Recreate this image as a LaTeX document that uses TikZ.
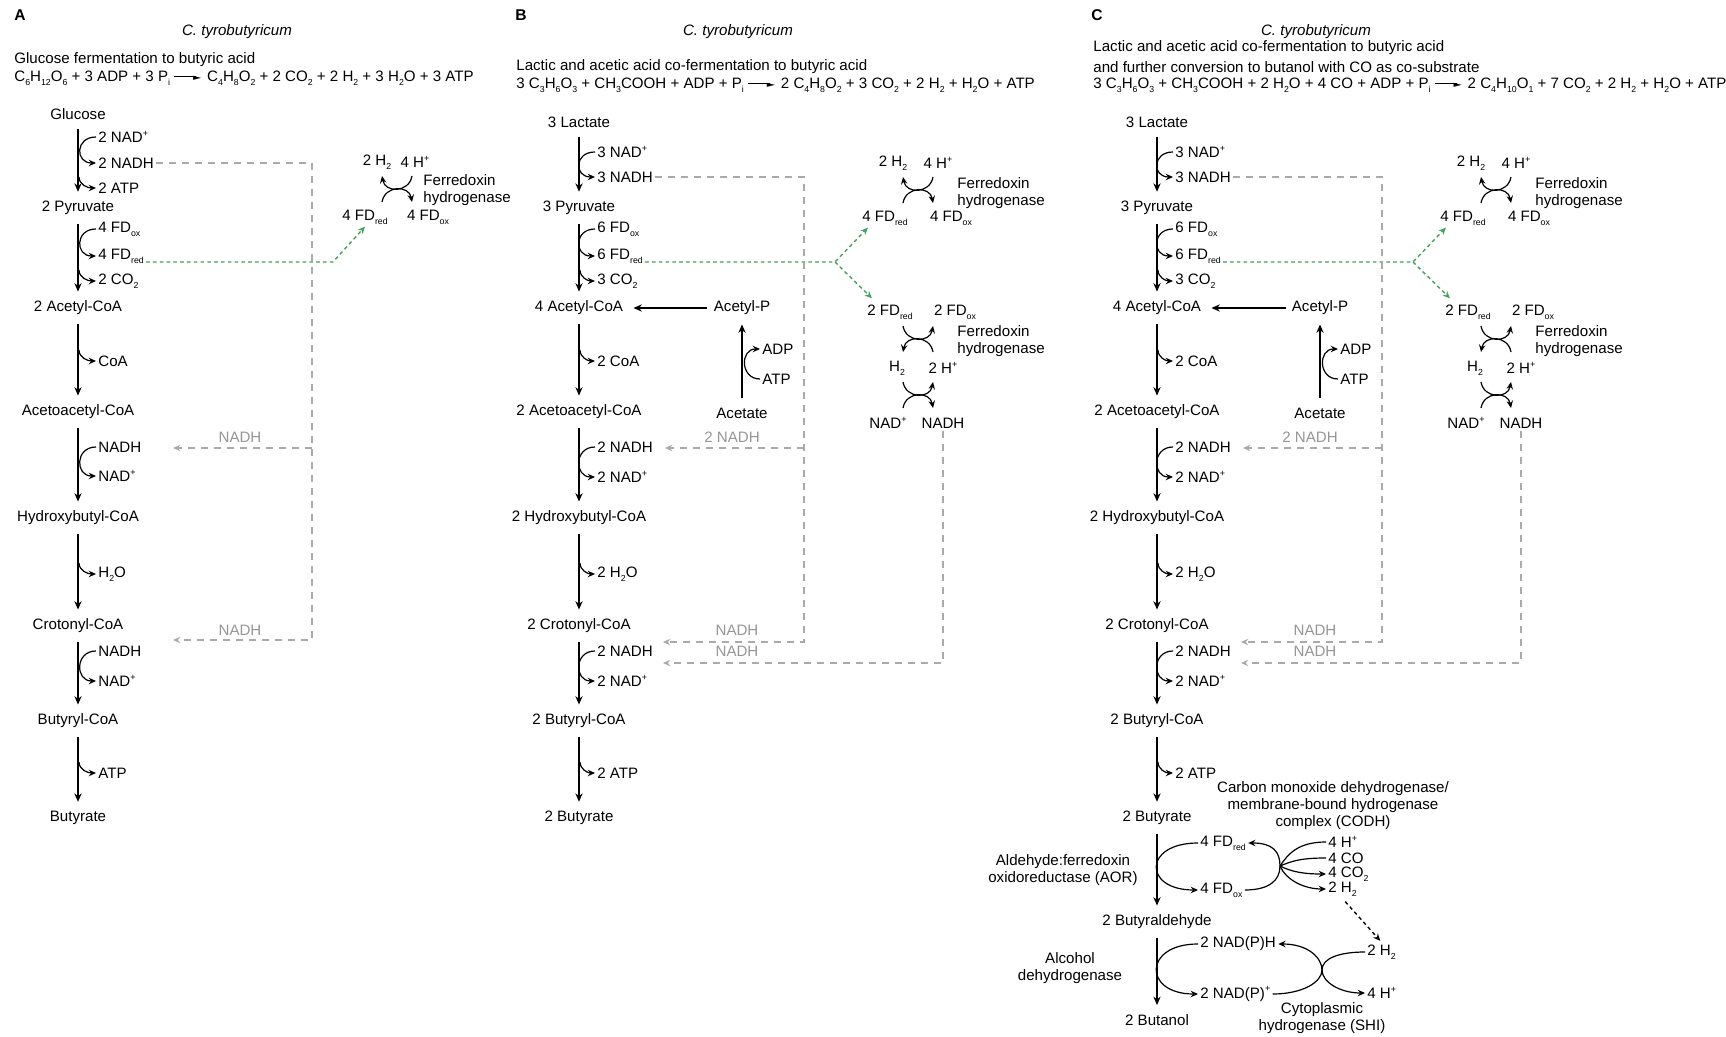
\documentclass[tikz,border=0pt]{standalone}
\usepackage{fontspec}
\setmainfont{Liberation Sans}
\newfontfamily\djv{DejaVu Sans}
\usetikzlibrary{arrows.meta,calc}
\newcommand{\dnx}[1]{\raisebox{-0.5ex}{\scalebox{0.58}{#1}}}
\newcommand{\upx}[1]{\raisebox{0.8ex}{\scalebox{0.6}{#1}}}
\newcommand{\lbf}{\fontsize{7.55pt}{8.5pt}\selectfont}
\newcommand{\rxarr}{\hspace{2pt}\rule[0.52ex]{11pt}{0.6pt}\kern-1.5pt\raisebox{0.1ex}{\djv\scalebox{0.7}[0.55]{►}}\hspace{3pt}}
\definecolor{dgray}{RGB}{170,170,170}
\definecolor{tgray}{RGB}{150,150,150}
\definecolor{fgreen}{RGB}{70,160,95}
\tikzset{
 sidelab/.style={anchor=west},
 ptitle/.style={font=\fontsize{7.8pt}{9pt}\selectfont\bfseries},
 mainarr/.style={line width=0.8pt, shorten <=3.5pt, shorten >=3.5pt, -{Stealth[length=4.2pt,width=3.6pt]}},
 sidearr/.style={line width=0.6pt, -{Stealth[length=3.6pt,width=3.2pt]}},
 plainarc/.style={line width=0.6pt},
 grayarr/.style={dgray, line width=0.65pt, dash pattern=on 3.5pt off 3pt, -{Stealth[length=3.6pt,width=3.2pt]}},
 greenarr/.style={fgreen, line width=0.7pt, dash pattern=on 1.8pt off 1.6pt, -{Stealth[length=3.6pt,width=3.2pt]}},
 graytxt/.style={text=tgray},
 crossT/.pic={
  \draw[sidearr] (15,-13) .. controls +(-3,17) and +(3,17) .. (-15,-13);
  \draw[sidearr] (-15,13) .. controls +(3,-17) and +(-3,-17) .. (15,13);
 },
 crossM/.pic={
  \draw[sidearr] (-15,-13) .. controls +(3,17) and +(-3,17) .. (15,-13);
  \draw[sidearr] (15,13) .. controls +(-3,-17) and +(3,-17) .. (-15,13);
 },
 crossL/.pic={
  \draw[sidearr] (-15,-13) .. controls +(3,17) and +(-3,17) .. (15,-13);
  \draw[sidearr] (-15,13) .. controls +(3,-17) and +(-3,-17) .. (15,13);
 },
}
\newcommand{\panelbc}[2]{%
 \node (#1lac) at (#2+579,122) {3 Lactate};
 \node (#1pyr) at (#2+579,208) {3 Pyruvate};
 \node (#1acc) at (#2+579,308) {4 Acetyl-CoA};
 \node (#1aac) at (#2+579,412) {2 Acetoacetyl-CoA};
 \node (#1hbc) at (#2+579,518) {2 Hydroxybutyl-CoA};
 \node (#1crc) at (#2+579,626) {2 Crotonyl-CoA};
 \node (#1bcc) at (#2+579,721) {2 Butyryl-CoA};
 \node (#1but) at (#2+579,818) {2 Butyrate};
 \foreach \a/\b in {lac/pyr,pyr/acc,acc/aac,aac/hbc,hbc/crc,crc/bcc,bcc/but} \draw[mainarr] (#1\a) -- (#1\b);
 \node[sidelab] (#1s1) at (#2+595,152) {3 NAD\upx{+}};
 \node[sidelab] (#1s2) at (#2+595,177) {3 NADH};
 \node[sidelab] (#1s4) at (#2+595,229) {6 FD\dnx{ox}};
 \node[sidelab] (#1s5) at (#2+595,256) {6 FD\dnx{red}};
 \node[sidelab] (#1s6) at (#2+595,281) {3 CO\dnx{2}};
 \node[sidelab] (#1s7) at (#2+595,361) {2 CoA};
 \node[sidelab] (#1s8) at (#2+595,447) {2 NADH};
 \node[sidelab] (#1s9) at (#2+595,477) {2 NAD\upx{+}};
 \node[sidelab] (#1s10) at (#2+595,574) {2 H\dnx{2}O};
 \node[sidelab] (#1s11) at (#2+595,651) {2 NADH};
 \node[sidelab] (#1s12) at (#2+595,681) {2 NAD\upx{+}};
 \node[sidelab] (#1s13) at (#2+595,773) {2 ATP};
 \foreach \p/\q in {s1/s2,s4/s5,s8/s9,s11/s12} \draw[sidearr] (#1\p.west) .. controls +(-21,0) and +(-21,0) .. (#1\q.west);
 \foreach \s in {s6,s7,s10,s13} \draw[sidearr] (#1\s -| #1lac) ++(1,-11) to[out=-90,in=180] (#1\s.west);
 % acetate branch
 \node (#1acp) at (#2+742,308) {Acetyl-P};
 \node (#1ace) at (#2+742,413) {Acetate};
 \node[sidelab] (#1adp) at (#2+760,349) {ADP};
 \node[sidelab] (#1atp) at (#2+760,379) {ATP};
 \draw[mainarr] (#1ace) -- (#1acp);
 \draw[mainarr, shorten <=2pt, shorten >=4pt] (#1acp) -- (#1acc);
 \draw[sidearr] (#1atp.west) .. controls +(-20,0) and +(-20,0) .. (#1adp.west);
 % ferredoxin hydrogenases
 \node (#1h2) at (#2+893,163) {2 H\dnx{2}};
 \node (#1hp) at (#2+938,163) {4 H\upx{+}};
 \node (#1fdr) at (#2+885,218) {4 FD\dnx{red}};
 \node (#1fdo) at (#2+951,218) {4 FD\dnx{ox}};
 \node[anchor=west, align=left] (#1fer) at (#2+955,193.5) {Ferredoxin\\hydrogenase};
 \pic at (#2+918,190) {crossT};
 \node (#1fdr2) at (#2+890,312) {2 FD\dnx{red}};
 \node (#1fdo2) at (#2+955,312) {2 FD\dnx{ox}};
 \node[anchor=west, align=left] (#1fer2) at (#2+955,341.5) {Ferredoxin\\hydrogenase};
 \node (#1h2b) at (#2+897,368) {H\dnx{2}};
 \node (#1hp2) at (#2+943,368) {2 H\upx{+}};
 \node (#1nad) at (#2+888,423) {NAD\upx{+}};
 \node (#1nadh) at (#2+943,423) {NADH};
 \pic at (#2+918,339) {crossM};
 \pic at (#2+918,395) {crossL};
 % green
 \coordinate (#1gs) at (#2+835,262);
 \draw[greenarr] (#1s5.east |- #1gs) -- (#1gs) -- ($(#1fdr.south west)+(8,0)$);
 \draw[greenarr] (#1gs) -- ($(#1fdr2.north west)+(7,-4)$);
 % gray dashed NADH
 \coordinate (#1dv) at (#2+804,177);
 \coordinate (#1t1) at (#2+665,448);
 \coordinate (#1t2) at (#2+663,642);
 \coordinate (#1t3) at (#2+663,663);
 \draw[grayarr] (#1s2.east) -- (#1s2.east -| #1dv) -- (#1dv |- #1t2) -- (#1t2);
 \draw[grayarr] (#1dv |- #1t1) -- (#1t1);
 \draw[grayarr] (#1nadh.south) -- (#1nadh.south |- #1t3) -- (#1t3);
 \node[graytxt] (#1g1) at (#2+732,437) {2 NADH};
 \node[graytxt] (#1g2) at (#2+737,630) {NADH};
 \node[graytxt] (#1g3) at (#2+737,651) {NADH};
}
\begin{document}
\begin{tikzpicture}[x=0.5pt,y=-0.5pt, every node/.style={font=\lbf, inner sep=1pt}]
\fill[white] (0,0) rectangle (1726,1037);
\useasboundingbox (0,0) rectangle (1726,1037);
% ---------------- Panel A ----------------
\node[ptitle] (labA) at (20,15) {A};
\node[font=\lbf\itshape] (spA) at (237,32) {C. tyrobutyricum};
\node[anchor=west] (tiA) at (12,60) {Glucose fermentation to butyric acid};
\node[anchor=west] (eqA) at (12,78) {C\dnx{6}H\dnx{12}O\dnx{6} + 3 ADP + 3 P\dnx{i}\rxarr C\dnx{4}H\dnx{8}O\dnx{2} + 2 CO\dnx{2} + 2 H\dnx{2} + 3 H\dnx{2}O + 3 ATP};
\node (glu) at (78,114) {Glucose};
\node (pyrA) at (78,208) {2 Pyruvate};
\node (accA) at (78,308) {2 Acetyl-CoA};
\node (aacA) at (78,412) {Acetoacetyl-CoA};
\node (hbcA) at (78,518) {Hydroxybutyl-CoA};
\node (crcA) at (78,626) {Crotonyl-CoA};
\node (bccA) at (78,721) {Butyryl-CoA};
\node (butA) at (78,818) {Butyrate};
\foreach \a/\b in {glu/pyrA,pyrA/accA,accA/aacA,aacA/hbcA,hbcA/crcA,crcA/bccA,bccA/butA} \draw[mainarr] (\a) -- (\b);
\node[sidelab] (a1) at (96,137) {2 NAD\upx{+}};
\node[sidelab] (a2) at (96,163) {2 NADH};
\node[sidelab] (a3) at (96,188) {2 ATP};
\node[sidelab] (a4) at (96,229) {4 FD\dnx{ox}};
\node[sidelab] (a5) at (96,256) {4 FD\dnx{red}};
\node[sidelab] (a6) at (96,281) {2 CO\dnx{2}};
\node[sidelab] (a7) at (96,361) {CoA};
\node[sidelab] (a8) at (96,447) {NADH};
\node[sidelab] (a9) at (96,476) {NAD\upx{+}};
\node[sidelab] (a10) at (96,574) {H\dnx{2}O};
\node[sidelab] (a11) at (96,651) {NADH};
\node[sidelab] (a12) at (96,681) {NAD\upx{+}};
\node[sidelab] (a13) at (96,773) {ATP};
\foreach \p/\q in {a1/a2,a4/a5,a8/a9,a11/a12} \draw[sidearr] (\p.west) .. controls +(-21,0) and +(-21,0) .. (\q.west);
\foreach \s in {a3,a6,a7,a10,a13} \draw[sidearr] (\s -| glu) ++(1,-11) to[out=-90,in=180] (\s.west);
% ferredoxin hydrogenase A
\node (h2A) at (377,162) {2 H\dnx{2}};
\node (hpA) at (415,162) {4 H\upx{+}};
\node (fdrA) at (365,217) {4 FD\dnx{red}};
\node (fdoA) at (428,217) {4 FD\dnx{ox}};
\node[anchor=west, align=left] (ferA) at (421,190.5) {Ferredoxin\\hydrogenase};
\pic at (397,189) {crossT};
\coordinate (gsA) at (333,262);
\draw[greenarr] (a5.east |- gsA) -- (gsA) -- (fdrA.south);
\coordinate (dvA) at (312,163);
\coordinate (tA1) at (173,448);
\coordinate (tA2) at (173,640);
\draw[grayarr] (a2.east) -- (a2.east -| dvA) -- (dvA |- tA2) -- (tA2);
\draw[grayarr] (dvA |- tA1) -- (tA1);
\node[graytxt] (nA1) at (240,437) {NADH};
\node[graytxt] (nA2) at (240,630) {NADH};
% ---------------- Panel B ----------------
\node[ptitle] (labB) at (521,15) {B};
\node[font=\lbf\itshape] (spB) at (738,32) {C. tyrobutyricum};
\node[anchor=west] (tiB) at (514,67) {Lactic and acetic acid co-fermentation to butyric acid};
\node[anchor=west] (eqB) at (514,85) {3 C\dnx{3}H\dnx{6}O\dnx{3} + CH\dnx{3}COOH + ADP + P\dnx{i}\rxarr 2 C\dnx{4}H\dnx{8}O\dnx{2} + 3 CO\dnx{2} + 2 H\dnx{2} + H\dnx{2}O + ATP};
\panelbc{B}{0}
% ---------------- Panel C ----------------
\node[ptitle] (labC) at (1097,15) {C};
\node[font=\lbf\itshape] (spC) at (1316,32) {C. tyrobutyricum};
\node[anchor=west] (tiC1) at (1091,48) {Lactic and acetic acid co-fermentation to butyric acid};
\node[anchor=west] (tiC2) at (1091,67) {and further conversion to butanol with CO as co-substrate};
\node[anchor=west] (eqC) at (1091,85) {3 C\dnx{3}H\dnx{6}O\dnx{3} + CH\dnx{3}COOH + 2 H\dnx{2}O + 4 CO + ADP + P\dnx{i}\rxarr 2 C\dnx{4}H\dnx{10}O\dnx{1} + 7 CO\dnx{2} + 2 H\dnx{2} + H\dnx{2}O + ATP};
\panelbc{C}{578}
% lower part of C
\node (Cbal) at (1157,922) {2 Butyraldehyde};
\node (Cbol) at (1157,1020) {2 Butanol};
\draw[mainarr] (Cbut) -- (Cbal);
\draw[mainarr] (Cbal) -- (Cbol);
\node[align=center] (Caor) at (1063,870.5) {Aldehyde:ferredoxin\\oxidoreductase (AOR)};
\node[align=center] (Cadh) at (1070,968) {Alcohol\\dehydrogenase};
\node[anchor=west] (Cfr) at (1198,843) {4 FD\dnx{red}};
\node[anchor=west] (Cfo) at (1198,890) {4 FD\dnx{ox}};
\node[anchor=west] (Cnh) at (1198,944) {2 NAD(P)H};
\node[anchor=west] (Cnp) at (1198,994) {2 NAD(P)\upx{+}};
\draw[sidearr] (Cfr.west) .. controls +(-55,0) and +(-55,0) .. (Cfo.west);
\draw[sidearr] (Cnh.west) .. controls +(-55,0) and +(-55,0) .. (Cnp.west);
\coordinate (Cv) at (1280,866);
\draw[sidearr] (Cfo.east) .. controls +(25,0) and +(0,14) .. (Cv) .. controls +(0,-14) and +(25,0) .. (Cfr.east);
\node[align=center] (Ccodh) at (1333,806) {Carbon monoxide dehydrogenase/\\membrane-bound hydrogenase\\complex (CODH)};
\node[anchor=west] (Chp) at (1326,842) {4 H\upx{+}};
\node[anchor=west] (Cco) at (1326,858) {4 CO};
\node[anchor=west] (Cco2) at (1326,874) {4 CO\dnx{2}};
\node[anchor=west] (Ch2) at (1326,889) {2 H\dnx{2}};
\draw[plainarc] (Chp.west) .. controls +(-28,0) and +(8,-12) .. (Cv);
\draw[plainarc] (Cco.west) .. controls +(-25,0) and +(12,-5) .. (Cv);
\draw[sidearr] (Cv) .. controls +(12,6) and +(-22,0) .. (Cco2.west);
\draw[sidearr] (Cv) .. controls +(6,14) and +(-22,0) .. (Ch2.west);
\node[anchor=west] (Ch2b) at (1365,952) {2 H\dnx{2}};
\node[anchor=west] (Chpb) at (1365,993) {4 H\upx{+}};
\draw[line width=0.7pt, dash pattern=on 1.8pt off 1.6pt, shorten <=2pt, shorten >=1pt, -{Stealth[length=3.6pt,width=3.2pt]}] (Ch2.south) -- (Ch2b.north);
\coordinate (Cs) at (1322,970);
\draw[sidearr] (Cnp.east) .. controls +(30,0) and +(0,12) .. (Cs) .. controls +(0,-12) and +(30,0) .. (Cnh.east);
\draw[sidearr] (Ch2b.west) .. controls +(-25,0) and +(0,-12) .. (Cs) .. controls +(0,12) and +(-25,0) .. (Chpb.west);
\node[align=center] (Cshi) at (1322,1018.5) {Cytoplasmic\\hydrogenase (SHI)};
\end{tikzpicture}
\end{document}
